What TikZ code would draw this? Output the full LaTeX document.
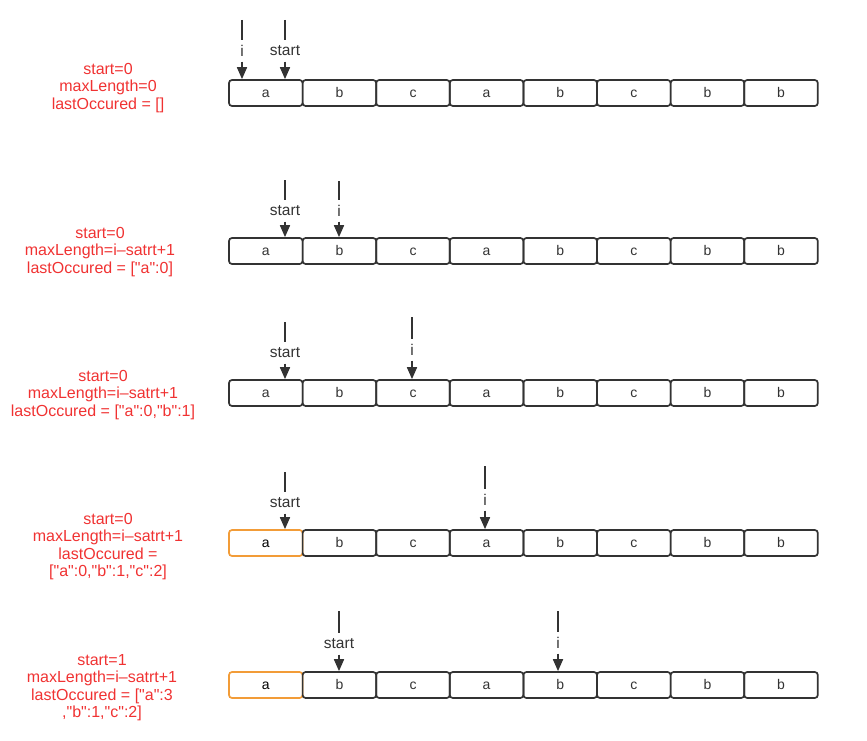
\documentclass[tikz,border=0pt]{standalone}
\usepackage{fontspec}
\setmainfont{Liberation Sans}[Ligatures=TeXOff]
\usetikzlibrary{arrows.meta}
\definecolor{txtred}{RGB}{240,50,50}
\definecolor{boxgray}{RGB}{51,51,51}
\definecolor{boxorange}{RGB}{242,156,56}

\begin{document}
\begin{tikzpicture}[x=1pt, y=-1pt,
  cell/.style={draw=boxgray, line width=1.7pt, rounded corners=3pt, minimum width=73.6pt, minimum height=26pt, inner sep=0pt, font=\fontsize{14}{16}\selectfont, text height=9.5pt, text depth=0pt, text=boxgray},
  seen/.style={cell, draw=boxorange, text=black},
  ptr/.style={font=\fontsize{15.5}{17}\selectfont, text=boxgray, minimum height=21pt, inner sep=0pt},
  ptrline/.style={draw=boxgray, line width=1.7pt},
  ptrarrow/.style={ptrline, -{Triangle[length=12pt,width=10pt]}},
  state/.style={text=txtred, align=center, font=\fontsize{16}{17.5}\selectfont}]

	\useasboundingbox (0,0) rectangle (867,741);

	% the string, once per step
	\foreach \r/\y/\look in {1/93/cell,2/251/cell,3/393/cell,4/543/seen,5/685/seen}{
		\node[\look] (r\r c1) at (265.8,\y) {a};
		\foreach \ch [count=\c from 2] in {b,c,a,b,c,b,b}
			\node[cell] (r\r c\c) at ({229+73.6*(\c-0.5)},\y) {\ch};
	}

	% pointers i and start
	\foreach \r/\txt/\x/\top/\lab in {1/i/242/20/51, 1/start/285/20/51,
			2/start/285/180/211, 2/i/339/181/211,
			3/start/285/322/353, 3/i/412/317/350,
			4/start/285/472/503, 4/i/485/466/500,
			5/start/339/611/644, 5/i/558/611/643}{
		\coordinate (t\r\txt) at (\x,\top);
		\node[ptr] (p\r\txt) at (\x,\lab) {\txt};
		\draw[ptrline] (t\r\txt) -- (p\r\txt);
		\draw[ptrarrow] (p\r\txt) -- (p\r\txt |- r\r c1.north);
	}

	% state of the variables
	\node[state] (st1) at (108,88) {start=0\\maxLength=0\\lastOccured = []};
	\node[state] (st2) at (100,252) {start=0\\maxLength=i–satrt+1\\lastOccured = ["a":0]};
	\node[state] (st3) at (103,395) {start=0\\maxLength=i–satrt+1\\lastOccured = ["a":0,"b":1]};
	\node[state] (st4) at (108,546.5) {start=0\\maxLength=i–satrt+1\\lastOccured =\\{["a":0,"b":1,"c":2]}};
	\node[state] (st5) at (102,687.5) {start=1\\maxLength=i–satrt+1\\lastOccured = ["a":3\\,"b":1,"c":2]};
\end{tikzpicture}
\end{document}
